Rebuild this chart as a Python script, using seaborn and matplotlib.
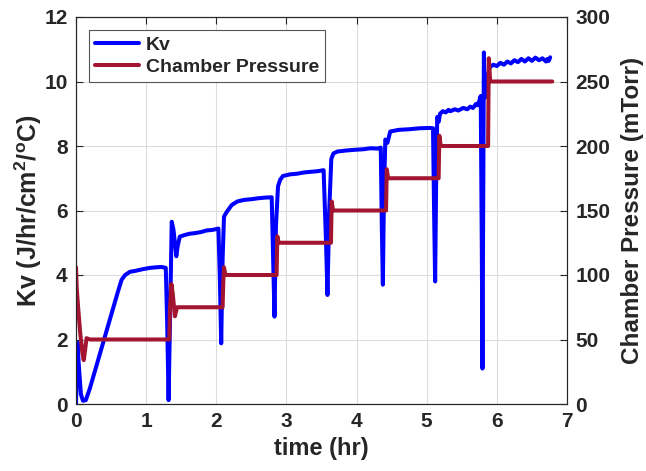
import matplotlib
matplotlib.use("Agg")
import matplotlib.pyplot as plt
import seaborn as sns
import pandas as pd

# ---------------- data ----------------
kv_time = [0.00, 0.02, 0.04, 0.07, 0.10, 0.14, 0.20, 0.30, 0.40, 0.50, 0.60, 0.65,
           0.70, 0.77, 0.85, 0.95, 1.05, 1.15, 1.22, 1.28, 1.30, 1.32, 1.34, 1.365,
           1.39, 1.43, 1.45, 1.48, 1.55, 1.62, 1.70, 1.78, 1.86, 1.95, 2.03, 2.05,
           2.07, 2.09, 2.11, 2.15, 2.22, 2.30, 2.40, 2.50, 2.60, 2.70, 2.79, 2.81,
           2.83, 2.85, 2.88, 2.91, 2.95, 3.05, 3.15, 3.25, 3.35, 3.45, 3.53, 3.565,
           3.585, 3.61, 3.64, 3.67, 3.73, 3.85, 3.96, 4.10, 4.20, 4.30, 4.345, 4.36,
           4.375, 4.39, 4.41, 4.44, 4.48, 4.60, 4.75, 4.90, 5.05, 5.09, 5.105, 5.12,
           5.135, 5.15, 5.17, 5.19, 5.23, 5.27, 5.31, 5.34, 5.40, 5.45, 5.52, 5.58,
           5.62, 5.66, 5.70, 5.72, 5.75, 5.77, 5.785, 5.795, 5.805, 5.815, 5.83, 5.85,
           5.87, 5.90, 5.95, 6.00, 6.05, 6.10, 6.15, 6.20, 6.25, 6.30, 6.35, 6.40,
           6.45, 6.50, 6.55, 6.60, 6.65, 6.70, 6.72, 6.74, 6.76]
kv_value = [0.00, 1.90, 1.20, 0.30, 0.10, 0.12, 0.50, 1.25, 2.00, 2.75, 3.50, 3.85,
            4.00, 4.10, 4.13, 4.18, 4.22, 4.24, 4.25, 4.22, 2.50, 0.12, 2.50, 5.65,
            5.40, 4.58, 4.90, 5.19, 5.24, 5.28, 5.30, 5.33, 5.38, 5.40, 5.44, 4.00,
            1.88, 4.50, 5.81, 5.96, 6.17, 6.28, 6.33, 6.35, 6.38, 6.40, 6.41, 4.50,
            2.71, 5.50, 6.75, 6.95, 7.07, 7.12, 7.14, 7.18, 7.20, 7.22, 7.25, 5.00,
            3.38, 6.00, 7.60, 7.77, 7.83, 7.86, 7.88, 7.90, 7.93, 7.92, 7.95, 5.50,
            3.70, 6.50, 8.20, 8.10, 8.45, 8.50, 8.52, 8.55, 8.56, 8.55, 6.00, 3.80,
            7.00, 8.90, 8.75, 9.00, 9.08, 9.04, 9.12, 9.08, 9.14, 9.10, 9.18, 9.14,
            9.22, 9.18, 9.30, 9.26, 9.40, 9.55, 5.00, 1.10, 6.00, 10.90, 9.50, 9.80,
            10.15, 10.45, 10.52, 10.48, 10.58, 10.52, 10.62, 10.56, 10.66, 10.60, 10.70, 10.62,
            10.72, 10.64, 10.74, 10.66, 10.72, 10.62, 10.70, 10.64, 10.75]

pressure_time = [0.00, 0.01, 0.03, 0.06, 0.09, 0.11, 0.13, 0.15, 0.20, 1.33, 1.34,
                 1.36, 1.38, 1.41, 1.44, 2.09, 2.10, 2.11, 2.13, 2.86, 2.87, 2.89,
                 3.635, 3.645, 3.665, 4.42, 4.43, 4.45, 5.17, 5.18, 5.20, 5.875,
                 5.885, 5.905, 6.79]
pressure_value = [106, 90, 75, 55, 40, 34, 42, 51, 50, 50, 75,
                  93, 85, 68, 75, 75, 95, 106, 100, 100, 130, 125,
                  125, 157, 150, 150, 182, 175, 175, 208, 200, 200,
                  268, 250, 250]

x_ticks = [0, 1, 2, 3, 4, 5, 6, 7]
kv_ticks = [0, 2, 4, 6, 8, 10, 12]
p_ticks = [0, 50, 100, 150, 200, 250, 300]

kv_df = pd.DataFrame({"time": kv_time, "Kv": kv_value})
p_df = pd.DataFrame({"time": pressure_time, "Pressure": pressure_value})

# ---------------- style ----------------
sns.set_style("white")
plt.rcParams["font.family"] = ["Liberation Sans", "DejaVu Sans"]
plt.rcParams["font.weight"] = "bold"
plt.rcParams["mathtext.fontset"] = "custom"
plt.rcParams["mathtext.rm"] = "Liberation Sans:bold"
plt.rcParams["mathtext.bf"] = "Liberation Sans:bold"
plt.rcParams["mathtext.it"] = "Liberation Sans:bold"

blue = "#0000FF"
red = "#A2142F"
axcol = "#262626"

fig = plt.figure(figsize=(6.46, 4.71), dpi=100)
ax = fig.add_axes([76 / 646, 1 - 404 / 471, (567 - 76) / 646, (404 - 17) / 471])
ax2 = ax.twinx()

sns.lineplot(data=kv_df, x="time", y="Kv", ax=ax, color=blue, lw=2.9,
             estimator=None, sort=False, label="Kv", legend=False)
sns.lineplot(data=p_df, x="time", y="Pressure", ax=ax2, color=red, lw=2.9,
             estimator=None, sort=False, label="Chamber Pressure", legend=False)

ax.set_xlim(0, 7)
ax.set_ylim(0, 12)
ax2.set_ylim(0, 300)
ax.set_xticks(x_ticks)
ax.set_yticks(kv_ticks)
ax2.set_yticks(p_ticks)

ax.grid(True, color="#dcdcdc", lw=0.8)
ax.set_axisbelow(True)

for a in (ax, ax2):
    for s in a.spines.values():
        s.set_color(axcol)
        s.set_linewidth(0.8)

ax.tick_params(axis="both", direction="in", length=5, width=0.8, color=axcol,
               labelsize=15, top=True, right=False, pad=6)
ax2.tick_params(axis="y", direction="in", length=5, width=0.8, color=axcol,
                labelsize=15, pad=6)
for lab in ax.get_xticklabels() + ax.get_yticklabels() + ax2.get_yticklabels():
    lab.set_fontweight("bold")

ax.set_xlabel("time (hr)", fontsize=17, fontweight="bold", labelpad=4)
ax.set_ylabel(r"Kv (J/hr/cm$^{\mathbf{2}}$/$^{\mathbf{o}}$C)", fontsize=18,
              fontweight="bold", labelpad=0)
ax2.set_ylabel("Chamber Pressure (mTorr)", fontsize=17.5, fontweight="bold",
               labelpad=8)

h1, l1 = ax.get_legend_handles_labels()
h2, l2 = ax2.get_legend_handles_labels()
leg = ax2.legend(h1 + h2, l1 + l2, loc="upper left",
                 bbox_to_anchor=(0.026, 0.966), borderaxespad=0,
                 fancybox=False, framealpha=1, edgecolor="#555555",
                 prop={"size": 14, "weight": "bold"}, handlelength=2.3,
                 handletextpad=0.35, borderpad=0.3, labelspacing=0.25)
leg.get_frame().set_linewidth(0.8)

fig.savefig("out.png", dpi=100)
